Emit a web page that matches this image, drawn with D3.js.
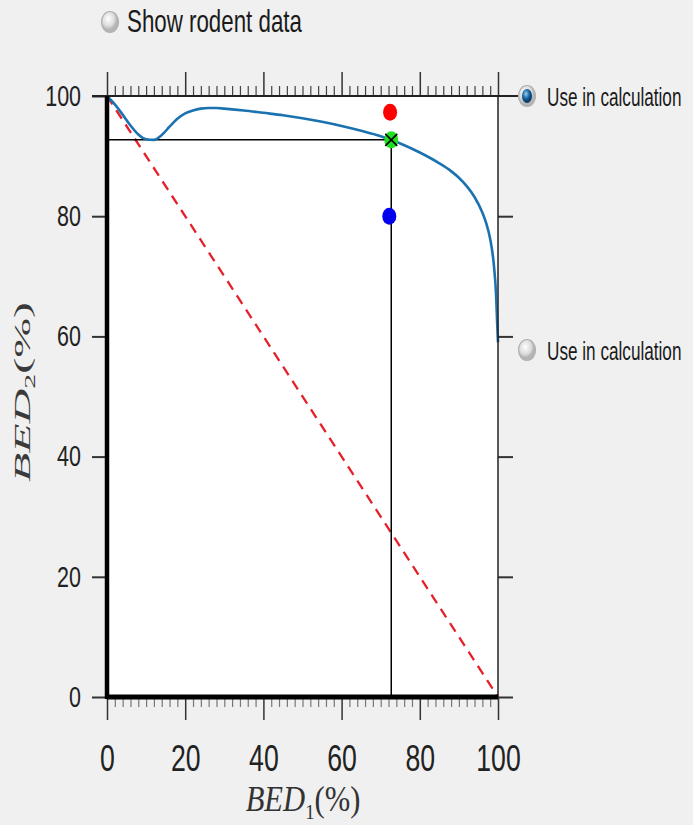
<!DOCTYPE html>
<html>
<head>
<meta charset="utf-8">
<script src="https://cdn.jsdelivr.net/npm/d3@7"></script>
<style>
  html, body { margin: 0; padding: 0; background: #f0f0f0; }
  svg { display: block; }
</style>
</head>
<body>
<div id="chart"></div>
<script>
// BED1 vs BED2 tolerance curve
const curveX = [0, 2, 4, 6, 8, 10, 12, 14, 16, 18, 20, 22, 24, 26, 28, 30, 35, 40, 45, 50,
  55, 60, 65, 70, 72.7, 75, 80, 85, 88, 90, 92, 94, 96, 97, 98, 99, 99.5, 99.8, 100];
const curveY = [100, 98.6, 96.9, 95.1, 93.6, 92.8, 92.7, 93.5, 94.9, 96.2, 97.1, 97.6, 97.9, 98.0, 98.0, 97.9, 97.6, 97.2, 96.8, 96.3,
  95.7, 95.0, 94.2, 93.3, 92.7, 92.1, 90.6, 88.8, 87.5, 86.4, 85.0, 83.2, 80.6, 78.8, 76.2, 71.5, 67.0, 62.0, 59.0];

// straight additive line
const diagX = [0, 100];
const diagY = [100, 0];

// operating point and the two reference points
const opPoint = { x: 72.7, y: 92.7 };
const dotX = [72.4, 72.7, 72.2];
const dotY = [97.3, 92.7, 80.0];
const dotColor = ['#ff0000', '#1fe01f', '#0000ee'];

const majorTicks = [0, 20, 40, 60, 80, 100];
const minorTicks = d3.range(0, 101, 2).filter(v => v % 20 !== 0);

const width = 693;
const height = 825;

const svg = d3.select('#chart')
  .append('svg')
  .attr('width', width)
  .attr('height', height);

svg.append('rect')
  .attr('width', width)
  .attr('height', height)
  .attr('fill', '#f0f0f0');

const x = d3.scaleLinear().domain([0, 100]).range([107, 498]);
const y = d3.scaleLinear().domain([0, 100]).range([697, 96]);

// squeeze text horizontally, the ui font is narrow
function squeeze (sel, k) {
  sel.each(function () {
    const w = this.getComputedTextLength();
    d3.select(this)
      .attr('textLength', w * k)
      .attr('lengthAdjust', 'spacingAndGlyphs');
  });
}

svg.append('rect')
  .attr('x', x(0))
  .attr('y', y(100))
  .attr('width', x(100) - x(0))
  .attr('height', y(0) - y(100))
  .attr('fill', '#ffffff');

// red dashed diagonal
svg.append('path')
  .datum(d3.zip(diagX, diagY))
  .attr('fill', 'none')
  .attr('stroke', '#e5202a')
  .attr('stroke-width', 2.3)
  .attr('stroke-dasharray', '10,7')
  .attr('d', d3.line().x(d => x(d[0])).y(d => y(d[1])));

// crosshair at the operating point
svg.append('line')
  .attr('x1', x(0)).attr('x2', x(opPoint.x))
  .attr('y1', y(opPoint.y)).attr('y2', y(opPoint.y))
  .attr('stroke', '#000').attr('stroke-width', 1.5);
svg.append('line')
  .attr('x1', x(opPoint.x)).attr('x2', x(opPoint.x))
  .attr('y1', y(opPoint.y)).attr('y2', y(0))
  .attr('stroke', '#000').attr('stroke-width', 1.5);

svg.append('path')
  .datum(d3.zip(curveX, curveY))
  .attr('fill', 'none')
  .attr('stroke', '#1b72b0')
  .attr('stroke-width', 2.6)
  .attr('d', d3.line().curve(d3.curveMonotoneX).x(d => x(d[0])).y(d => y(d[1])));

svg.append('g')
  .selectAll('ellipse')
  .data(d3.range(dotX.length))
  .join('ellipse')
  .attr('cx', i => x(dotX[i]))
  .attr('cy', i => y(dotY[i]))
  .attr('rx', 7)
  .attr('ry', 8.5)
  .attr('fill', i => dotColor[i]);

svg.append('path')
  .attr('transform', `translate(${x(opPoint.x)},${y(opPoint.y)})`)
  .attr('d', 'M-6,-6L6,6M-6,6L6,-6')
  .attr('stroke', '#000')
  .attr('stroke-width', 1.6);

// axes
const axisFont = 'Liberation Sans, Arial, sans-serif';

const leftAxis = svg.append('g')
  .attr('transform', `translate(${x(0)},0)`)
  .call(d3.axisLeft(y).tickValues(majorTicks).tickSize(15).tickSizeOuter(0).tickPadding(11));
leftAxis.select('.domain').remove();
leftAxis.selectAll('line').attr('stroke', '#333').attr('stroke-width', 2);
leftAxis.selectAll('text')
  .attr('font-family', axisFont)
  .attr('font-size', 29)
  .attr('fill', '#222')
  .call(squeeze, 0.74);

const rightAxis = svg.append('g')
  .attr('transform', `translate(${x(100)},0)`)
  .call(d3.axisRight(y).tickValues([0, 20, 40, 60, 80]).tickSize(15).tickSizeOuter(0).tickFormat(''));
rightAxis.select('.domain').remove();
rightAxis.selectAll('line').attr('stroke', '#333').attr('stroke-width', 2);

const topAxis = svg.append('g')
  .attr('transform', `translate(0,${y(100)})`);
topAxis.append('g')
  .call(d3.axisTop(x).tickValues(minorTicks).tickSize(10).tickSizeOuter(0).tickFormat(''))
  .call(g => g.select('.domain').remove())
  .selectAll('line').attr('stroke', '#444').attr('stroke-width', 1.2);
topAxis.append('g')
  .call(d3.axisTop(x).tickValues(majorTicks).tickSize(24).tickSizeOuter(0).tickFormat(''))
  .call(g => g.select('.domain').remove())
  .selectAll('line').attr('stroke', '#333').attr('stroke-width', 1.5);

const bottomAxis = svg.append('g')
  .attr('transform', `translate(0,${y(0)})`);
bottomAxis.append('g')
  .call(d3.axisBottom(x).tickValues(minorTicks).tickSize(10).tickSizeOuter(0).tickFormat(''))
  .call(g => g.select('.domain').remove())
  .selectAll('line').attr('stroke', '#777').attr('stroke-width', 1.2);
const bottomMajor = bottomAxis.append('g')
  .call(d3.axisBottom(x).tickValues(majorTicks).tickSize(23).tickSizeOuter(0).tickPadding(25));
bottomMajor.select('.domain').remove();
bottomMajor.selectAll('line').attr('stroke', '#333').attr('stroke-width', 1.5);
bottomMajor.selectAll('text')
  .attr('font-family', axisFont)
  .attr('font-size', 37)
  .attr('fill', '#222')
  .call(squeeze, 0.72);

// frame lines
svg.append('line')
  .attr('x1', 92).attr('x2', 520)
  .attr('y1', y(100)).attr('y2', y(100))
  .attr('stroke', '#222').attr('stroke-width', 2);
svg.append('line')
  .attr('x1', x(100)).attr('x2', x(100))
  .attr('y1', y(100)).attr('y2', y(0))
  .attr('stroke', '#222').attr('stroke-width', 1.5);
svg.append('line')
  .attr('x1', x(0)).attr('x2', x(0))
  .attr('y1', y(100)).attr('y2', y(0) + 2)
  .attr('stroke', '#000').attr('stroke-width', 4.5);
svg.append('line')
  .attr('x1', x(0)).attr('x2', x(100))
  .attr('y1', y(0)).attr('y2', y(0))
  .attr('stroke', '#000').attr('stroke-width', 5);

// axis titles, tex style
const xTitle = svg.append('text')
  .attr('transform', 'translate(303,811) scale(0.85,1)')
  .attr('text-anchor', 'middle')
  .attr('font-family', 'Liberation Serif, Times New Roman, serif')
  .attr('font-size', 36)
  .attr('fill', '#333');
xTitle.append('tspan').attr('font-style', 'italic').text('BED');
xTitle.append('tspan').attr('font-size', 22).attr('dy', 8).text('1');
xTitle.append('tspan').attr('dy', -8).text('(%)');

const yTitle = svg.append('text')
  .attr('transform', 'translate(30,392) rotate(-90) scale(1.5,0.7)')
  .attr('text-anchor', 'middle')
  .attr('font-family', 'Liberation Serif, Times New Roman, serif')
  .attr('font-size', 32)
  .attr('fill', '#3a3a3a');
yTitle.append('tspan').attr('font-style', 'italic').text('BED');
yTitle.append('tspan').attr('font-size', 20).attr('dy', 7).text('2');
yTitle.append('tspan').attr('dy', -7).text('(%)');

// radio buttons
const defs = svg.append('defs');
const grey = defs.append('radialGradient').attr('id', 'radioGrey').attr('cx', '40%').attr('cy', '35%');
grey.append('stop').attr('offset', '0%').attr('stop-color', '#ffffff');
grey.append('stop').attr('offset', '70%').attr('stop-color', '#dcdcdc');
grey.append('stop').attr('offset', '100%').attr('stop-color', '#b5b5b5');
const blue = defs.append('radialGradient').attr('id', 'radioBlue').attr('cx', '40%').attr('cy', '35%');
blue.append('stop').attr('offset', '0%').attr('stop-color', '#9fd0f0');
blue.append('stop').attr('offset', '60%').attr('stop-color', '#1d6fae');
blue.append('stop').attr('offset', '100%').attr('stop-color', '#0d3f6b');

const radios = [
  { cx: 110, cy: 22, on: false, label: 'Show rodent data', tx: 127, ty: 32, size: 31, k: 0.72 },
  { cx: 527, cy: 96, on: true, label: 'Use in calculation', tx: 547, ty: 106, size: 26, k: 0.66 },
  { cx: 527, cy: 350, on: false, label: 'Use in calculation', tx: 547, ty: 360, size: 26, k: 0.66 }
];

const radio = svg.append('g')
  .selectAll('g')
  .data(radios)
  .join('g');

radio.append('ellipse')
  .attr('cx', d => d.cx).attr('cy', d => d.cy)
  .attr('rx', 8.5).attr('ry', 10.5)
  .attr('fill', 'url(#radioGrey)')
  .attr('stroke', '#b0b0b0')
  .attr('stroke-width', 1.2);

radio.filter(d => d.on)
  .append('ellipse')
  .attr('cx', d => d.cx).attr('cy', d => d.cy)
  .attr('rx', 5).attr('ry', 7)
  .attr('fill', 'url(#radioBlue)');

radio.append('text')
  .attr('transform', d => `translate(${d.tx},${d.ty}) scale(${d.k},1)`)
  .attr('font-family', axisFont)
  .attr('font-size', d => d.size)
  .attr('fill', '#1a1a1a')
  .text(d => d.label);
</script>
</body>
</html>
